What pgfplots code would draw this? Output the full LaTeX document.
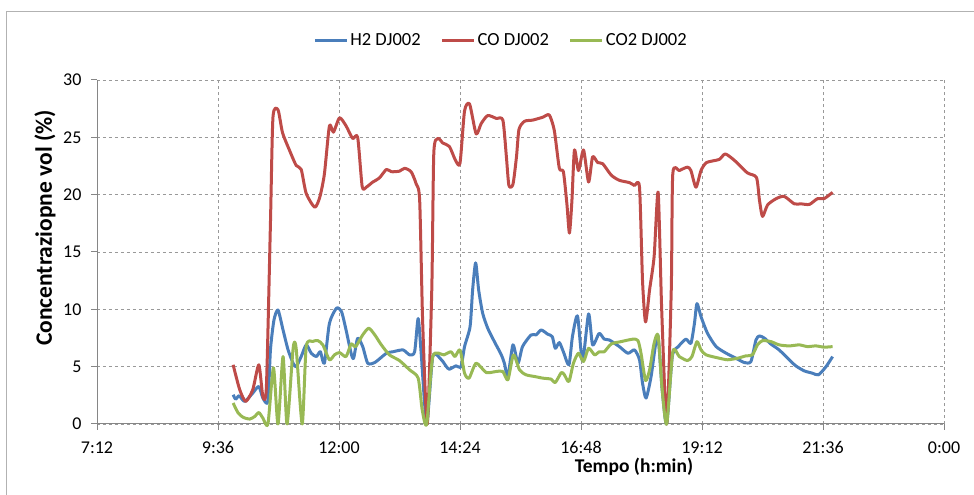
\documentclass[border=0pt]{standalone}
\usepackage{fontspec}
\setmainfont{Carlito}
\usepackage{pgfplots}
\pgfplotsset{compat=1.18}
\definecolor{cH}{HTML}{4A7EBB}
\definecolor{cCO}{HTML}{BE4B48}
\definecolor{cCOt}{HTML}{98B954}
\definecolor{axgray}{HTML}{868686}
\begin{document}
\begin{tikzpicture}[x=1bp,y=1bp]
\useasboundingbox (0,0) rectangle (974,495);
\draw[gray!60, line width=0.8bp] (6,0) -- (6,483.3) -- (974,483.3);
\begin{axis}[
  at={(97bp,71bp)}, anchor=south west, scale only axis,
  width=847bp, height=344bp,
  xmin=7.2, xmax=24, ymin=0, ymax=30,
  xtick={7.2,9.6,12,14.4,16.8,19.2,21.6,24},
  xticklabels={7:12,9:36,12:00,14:24,16:48,19:12,21:36,0:00},
  ytick={0,5,10,15,20,25,30},
  /pgf/number format/assume math mode=true,
  axis lines=left,
  axis line style={-, draw=axgray, line width=1bp},
  tick align=outside,
  major tick length=6bp,
  tick style={draw=axgray, line width=1bp},
  grid=major,
  grid style={dashed, draw=gray!80, line width=0.7bp},
  ticklabel style={font=\fontsize{18bp}{20bp}\selectfont, text=black},
  xticklabel style={yshift=-8bp},
  yticklabel style={xshift=-6bp},
  clip=false,
  xlabel={\textbf{Tempo (h:min)}},
  ylabel={\textbf{Concentraziopne vol (\%)}},
  xlabel style={font=\fontsize{19.5bp}{22bp}\selectfont, at={(rel axis cs:0.634,-0.125)}, anchor=center},
  ylabel style={font=\fontsize{23.5bp}{25bp}\selectfont, at={(rel axis cs:-0.0614,0.57)}, anchor=center},
  legend columns=3,
  legend style={draw=none, fill=none, at={(rel axis cs:0.477,1.116)}, anchor=center,
    font=\fontsize{18.5bp}{20bp}\selectfont,
    /tikz/every even column/.append style={column sep=18bp}},
  legend image code/.code={\draw[#1] (0bp,0bp) -- (32bp,0bp);},
  every axis plot/.append style={line width=3bp, smooth, tension=0.4, line join=round},
]
\addplot[cH] coordinates {
(9.90,2.55) (9.95,2.17) (10.02,2.46) (10.13,1.97) (10.29,2.7) (10.41,3.27) (10.49,2.26) (10.59,1.97)
(10.64,6.46) (10.71,9.07) (10.79,9.94) (10.89,8.2) (10.99,6.46) (11.09,5.3) (11.15,5.0) (11.25,5.88)
(11.35,6.9) (11.45,6.17) (11.55,5.88) (11.63,6.3) (11.71,5.3) (11.81,8.78) (11.95,10.1) (12.05,9.8)
(12.14,8.2) (12.24,6.17) (12.29,5.74) (12.37,7.48) (12.47,6.75) (12.57,5.3) (12.71,5.36) (12.94,6.17)
(13.07,6.3) (13.27,6.46) (13.40,6.03) (13.50,6.3) (13.57,9.2) (13.63,6.17) (13.74,0)
(13.86,5.88) (14.03,5.6) (14.13,5.0) (14.19,4.78) (14.32,5.07) (14.42,5.0) (14.49,6.75) (14.60,8.5)
(14.65,11.68) (14.71,14.05) (14.77,11.68) (14.85,9.65) (14.95,8.35) (15.08,7.2) (15.22,6.03) (15.28,5.3)
(15.35,4.14) (15.45,6.9) (15.55,5.3) (15.64,6.75) (15.81,7.77) (15.91,7.77) (16.01,8.2) (16.14,7.83)
(16.23,7.62) (16.29,6.6) (16.37,7.1) (16.45,6.3) (16.56,5.16) (16.63,7.62) (16.73,9.42) (16.83,5.5)
(16.95,9.6) (17.03,6.9) (17.16,7.9) (17.26,7.4) (17.36,7.33) (17.56,6.75) (17.73,6.17) (17.86,6.46)
(17.96,5.6) (18.02,3.57) (18.09,2.26) (18.19,4.14) (18.32,7.77) (18.41,2.98) (18.50,0)
(18.61,5.88) (18.73,6.75) (18.88,7.4) (18.98,7.04) (19.05,8.78) (19.10,10.5) (19.18,9.36) (19.31,7.9)
(19.48,6.75) (19.68,6.17) (19.87,5.74) (20.04,5.36) (20.17,5.45) (20.27,7.33) (20.34,7.68) (20.44,7.48)
(20.57,6.96) (20.73,6.46) (20.93,5.6) (21.06,5.07) (21.23,4.63) (21.39,4.43) (21.51,4.29) (21.66,5.0)
(21.79,5.88)
};
\addlegendentry{H2 DJ002}
\addplot[cCO] coordinates {
(9.90,5.16) (10.03,3.0) (10.15,1.97) (10.29,3.0) (10.41,5.16) (10.49,2.4) (10.56,3.27) (10.64,17.5)
(10.69,26.75) (10.79,27.4) (10.88,25.4) (11.02,23.85) (11.15,22.55) (11.25,22.2) (11.35,20.1) (11.52,18.9)
(11.62,19.8) (11.71,21.8) (11.81,26.0) (11.89,25.45) (12.01,26.7) (12.14,26.0) (12.27,24.9) (12.37,25.0)
(12.46,20.7) (12.54,20.65) (12.67,21.1) (12.80,21.45) (12.94,22.2) (13.04,22.0) (13.20,22.05) (13.30,22.3)
(13.43,22.0) (13.53,20.95) (13.60,19.5) (13.66,8.8) (13.75,0) (13.84,11.7) (13.88,23.6)
(13.96,24.9) (14.06,24.5) (14.19,24.2) (14.31,23.0) (14.40,22.75) (14.49,27.3) (14.59,27.9) (14.72,25.3)
(14.82,26.2) (14.95,26.9) (15.12,26.65) (15.25,26.5) (15.32,23.3) (15.37,20.8) (15.45,20.9) (15.52,23.3)
(15.57,25.7) (15.68,26.4) (15.84,26.5) (16.04,26.75) (16.17,26.95) (16.27,25.6) (16.37,22.3) (16.45,22.0)
(16.52,19.2) (16.57,16.65) (16.62,19.5) (16.67,23.9) (16.75,22.1) (16.85,23.9) (16.95,21.1) (17.03,23.3)
(17.13,22.8) (17.23,22.7) (17.40,21.7) (17.56,21.25) (17.76,21.05) (17.86,20.8) (17.96,20.65) (18.02,12.5)
(18.08,8.9) (18.16,11.7) (18.25,14.6) (18.33,20.2) (18.40,10) (18.50,0) (18.59,11.7)
(18.62,21.8) (18.75,22.1) (18.91,22.4) (18.98,22.1) (19.08,20.65) (19.18,22.1) (19.29,22.8) (19.54,23.07)
(19.66,23.55) (19.84,23.0) (20.10,21.9) (20.28,21.5) (20.34,19.5) (20.40,18.1) (20.50,19.1) (20.67,19.65)
(20.83,19.85) (21.03,19.2) (21.16,19.2) (21.33,19.15) (21.49,19.65) (21.62,19.65) (21.79,20.2)
};
\addlegendentry{CO DJ002}
\addplot[cCOt] coordinates {
(9.90,1.83) (10.00,0.96) (10.10,0.58) (10.23,0.43) (10.33,0.66) (10.41,1.0) (10.49,0.52) (10.59,0)
(10.70,4.9) (10.79,0) (10.89,5.88) (10.97,0) (11.09,6.6) (11.15,6.6) (11.27,0) (11.35,6.75)
(11.48,7.2) (11.58,7.27) (11.68,6.9) (11.81,5.6) (11.91,6.03) (12.01,6.23) (12.14,5.88) (12.24,6.98)
(12.33,6.75) (12.47,7.77) (12.59,8.35) (12.71,7.77) (12.84,6.9) (13.00,6.03) (13.20,5.53) (13.40,4.72)
(13.57,4.0) (13.65,1.24) (13.74,0) (13.86,5.88) (14.08,6.03) (14.22,6.3) (14.30,5.88)
(14.40,6.46) (14.49,4.43) (14.58,4.0) (14.72,5.3) (14.92,4.49) (15.12,4.58) (15.25,4.58) (15.35,3.85)
(15.46,6.03) (15.58,4.72) (15.71,4.29) (15.88,4.14) (16.04,4.0) (16.21,3.91) (16.29,3.62) (16.41,4.49)
(16.47,4.29) (16.56,3.7) (16.65,5.3) (16.75,6.17) (16.85,5.45) (16.95,6.6) (17.07,6.03) (17.16,6.3)
(17.26,6.3) (17.40,6.98) (17.59,7.18) (17.83,7.4) (17.93,7.27) (17.99,6.17) (18.08,3.8) (18.16,4.72)
(18.25,7.04) (18.33,7.7) (18.41,2.98) (18.50,0) (18.62,6.3) (18.75,5.88) (18.91,5.53)
(19.00,5.88) (19.10,7.18) (19.18,6.46) (19.28,6.03) (19.54,5.74) (19.71,5.6) (19.91,5.74) (20.07,5.94)
(20.20,6.03) (20.30,6.9) (20.40,7.27) (20.57,7.18) (20.73,6.9) (20.93,6.81) (21.13,6.9) (21.29,6.75)
(21.46,6.81) (21.62,6.7) (21.79,6.75)
};
\addlegendentry{CO2 DJ002}
\end{axis}
\end{tikzpicture}
\end{document}
